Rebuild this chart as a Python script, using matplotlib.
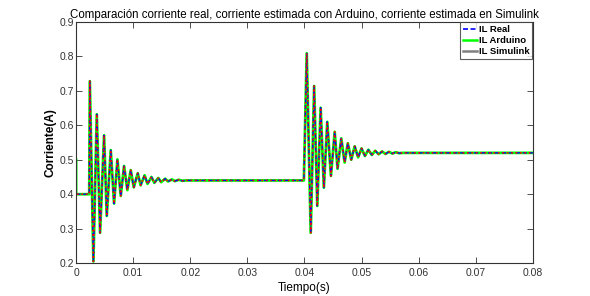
import matplotlib.pyplot as plt
from matplotlib.lines import Line2D

plt.rcParams['font.family'] = ['Liberation Sans', 'DejaVu Sans']

# time (s) and current (A), at the turning points
t_pts = [0.0, 0.0, 0.0023,
         0.0024, 0.00303, 0.00362, 0.0042, 0.0049, 0.00537, 0.00607, 0.00665,
         0.00724, 0.00782, 0.0084, 0.00898, 0.00957, 0.0101, 0.0108, 0.0113,
         0.0120, 0.0125, 0.0132, 0.0137, 0.0144, 0.0149, 0.0156, 0.0161,
         0.0168, 0.0173, 0.0180, 0.0186, 0.0192, 0.0399,
         0.0404, 0.0411, 0.0417, 0.04225, 0.04284, 0.0434, 0.0440, 0.04464,
         0.0453, 0.0458, 0.04645, 0.04704, 0.0476, 0.0482, 0.0488, 0.0494,
         0.0500, 0.0506, 0.0512, 0.0518, 0.0524, 0.0530, 0.0536, 0.0542,
         0.0548, 0.0554, 0.0560, 0.0566, 0.0572, 0.08]
il_pts = [0.50, 0.40, 0.40,
          0.728, 0.205, 0.632, 0.288, 0.571, 0.337, 0.528, 0.373,
          0.501, 0.395, 0.482, 0.412, 0.470, 0.420, 0.461, 0.426,
          0.455, 0.430, 0.450, 0.433, 0.447, 0.435, 0.445, 0.437,
          0.443, 0.438, 0.442, 0.439, 0.440, 0.440,
          0.809, 0.288, 0.714, 0.366, 0.651, 0.419, 0.610, 0.453,
          0.581, 0.474, 0.562, 0.492, 0.548, 0.500, 0.539, 0.507,
          0.533, 0.511, 0.529, 0.514, 0.526, 0.516, 0.524, 0.517,
          0.523, 0.518, 0.522, 0.519, 0.520, 0.520]

il_real = il_pts
il_arduino = il_pts
il_simulink = il_pts

x_ticks = [0, 0.01, 0.02, 0.03, 0.04, 0.05, 0.06, 0.07, 0.08]
x_labels = ['0', '0.01', '0.02', '0.03', '0.04', '0.05', '0.06', '0.07', '0.08']
y_ticks = [0.2, 0.3, 0.4, 0.5, 0.6, 0.7, 0.8, 0.9]

fig = plt.figure(figsize=(5.9, 2.96), dpi=100)
ax = fig.add_axes([0.129, 0.111, 0.774, 0.815])

ax.plot(t_pts, il_arduino, color='#00ff00', lw=2.0)
ax.plot(t_pts, il_real, color='#0000ff', lw=1.0, ls='--', dashes=(3, 2))
ax.plot(t_pts, il_simulink, color='#ff0000', lw=1.2, ls=':')

ax.set_xlim(0, 0.08)
ax.set_ylim(0.2, 0.9)
ax.set_xticks(x_ticks)
ax.set_xticklabels(x_labels)
ax.set_yticks(y_ticks)
ax.tick_params(direction='in', top=True, right=True, labelsize=7.5, length=4, width=0.6, colors='#333333')
ax.tick_params(axis='y', pad=1.5)
for s in ax.spines.values():
    s.set_linewidth(0.8)
    s.set_color('#333333')

ax.set_title('Comparación corriente real, corriente estimada con Arduino, corriente estimada en Simulink',
             fontsize=8.3, pad=3)
ax.set_xlabel('Tiempo(s)', fontsize=8.5)
ax.set_ylabel('Corriente(A)', fontsize=8.5, fontweight='bold')
ax.xaxis.set_label_coords(0.5, -0.08)
ax.yaxis.set_label_coords(-0.043, 0.5)

handles = [Line2D([], [], color='#0000ff', ls='--', dashes=(3, 1.5), lw=1.2),
           Line2D([], [], color='#00ff00', lw=1.8),
           Line2D([], [], color='#808080', lw=1.8)]
leg = ax.legend(handles, ['IL Real', 'IL Arduino', 'IL Simulink'], loc='upper right',
                prop={'weight': 'bold', 'size': 6.8}, frameon=True, fancybox=False,
                handlelength=1.5, handletextpad=0.2, borderpad=0.3, labelspacing=0.2,
                borderaxespad=0.05)
leg.get_frame().set_edgecolor('#333333')
leg.get_frame().set_linewidth(0.8)

fig.savefig('out.png', dpi=100)
